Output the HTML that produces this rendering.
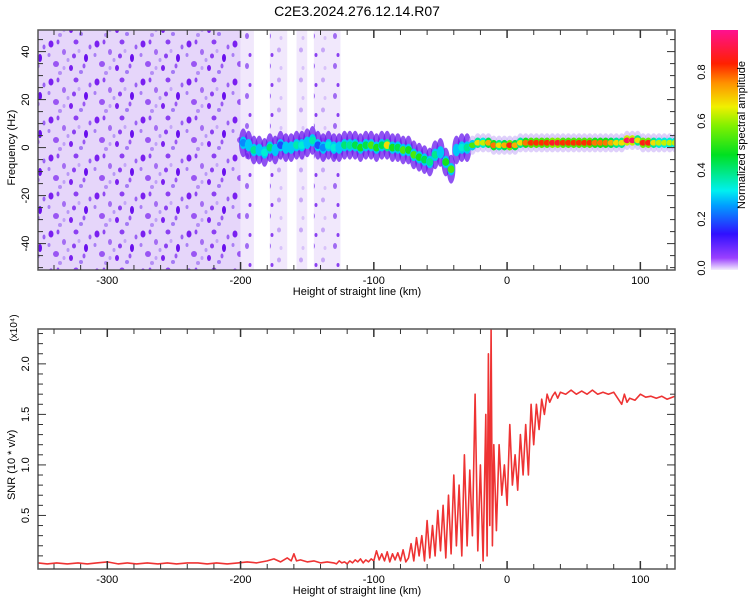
<!DOCTYPE html>
<html><head><meta charset="utf-8">
<style>
body{margin:0;background:#fff;}
svg{font-family:"Liberation Sans",sans-serif;}
</style></head>
<body>
<svg id="c" width="750" height="600" viewBox="0 0 750 600" xmlns="http://www.w3.org/2000/svg">
<defs>
<pattern id="noise" x="0" y="0" width="46" height="38" patternUnits="userSpaceOnUse">
<rect width="46" height="38" fill="#e6d6fa"/>
<ellipse cx="5" cy="6" rx="2.5" ry="3.5" fill="#7a1ff0"/>
<ellipse cx="18" cy="14" rx="2" ry="3" fill="#a36cf3"/>
<ellipse cx="30" cy="4" rx="2.5" ry="2.5" fill="#8c40f2"/>
<ellipse cx="40" cy="20" rx="2" ry="4" fill="#6a10ee"/>
<ellipse cx="10" cy="26" rx="3" ry="3" fill="#9955f3"/>
<ellipse cx="25" cy="30" rx="2" ry="3" fill="#7a20ef"/>
<ellipse cx="35" cy="34" rx="2" ry="2" fill="#a47af5"/>
<ellipse cx="14" cy="35" rx="2" ry="2" fill="#b48ef6"/>
<ellipse cx="22" cy="22" rx="1.5" ry="2" fill="#b898f7"/>
<ellipse cx="44" cy="9" rx="1.5" ry="2.5" fill="#9a62f4"/>
<ellipse cx="3" cy="17" rx="1.5" ry="2" fill="#a97ef5"/>
<ellipse cx="33" cy="13" rx="1.5" ry="2" fill="#c4a6f8"/>
<ellipse cx="12" cy="4" rx="1.5" ry="2.5" fill="#8f48f2"/>
<ellipse cx="28" cy="18" rx="2" ry="2.5" fill="#8a40f1"/>
<ellipse cx="38" cy="28" rx="1.5" ry="2.5" fill="#9a5af3"/>
<ellipse cx="18" cy="30" rx="1.5" ry="2" fill="#c0a0f8"/>
</pattern>
<pattern id="noise2" x="0" y="0" width="22" height="30" patternUnits="userSpaceOnUse">
<rect width="22" height="30" fill="#f1e8fc"/>
<ellipse cx="5" cy="6" rx="2" ry="3" fill="#a06af3"/>
<ellipse cx="15" cy="20" rx="2" ry="2.5" fill="#c7a7f7"/>
<ellipse cx="8" cy="25" rx="1.5" ry="2" fill="#8a40f1"/>
<ellipse cx="17" cy="8" rx="1.5" ry="2" fill="#d8c2fa"/>
</pattern>
<linearGradient id="cbar" x1="0" y1="1" x2="0" y2="0">
<stop offset="0" stop-color="#f4eefd"/>
<stop offset="0.05" stop-color="#9a40ff"/>
<stop offset="0.15" stop-color="#3010ff"/>
<stop offset="0.27" stop-color="#00a0ff"/>
<stop offset="0.33" stop-color="#00f0f0"/>
<stop offset="0.48" stop-color="#00e020"/>
<stop offset="0.6" stop-color="#80f000"/>
<stop offset="0.68" stop-color="#f0f000"/>
<stop offset="0.78" stop-color="#ff9000"/>
<stop offset="0.86" stop-color="#ff2000"/>
<stop offset="1" stop-color="#ff1090"/>
</linearGradient>
<clipPath id="clipTop"><rect x="38" y="30" width="637" height="240"/></clipPath>
<clipPath id="clipBot"><rect x="38" y="329" width="637" height="240"/></clipPath>
</defs>
<text x="357" y="16" font-size="14" text-anchor="middle">C2E3.2024.276.12.14.R07</text>
<g id="top"></g>
<g id="cb"></g>
<g id="bot"></g>
</svg>
<script>
// ---- data ----
const xTicks=[-300,-200,-100,0,100];
const fTicks=[-40,-20,0,20,40];
const snrTicks=[0.5,1.0,1.5,2.0];
const cbTicks=[0.0,0.2,0.4,0.6,0.8];
const noiseBands=[[-352,-200,1],[-200,-190,2],[-178,-165,2],[-158,-150,2],[-145,-125,2]];
const bandKm=[-200,-196,-192,-188,-184,-180,-176,-172,-168,-164,-160,-156,-152,-148,-144,-140,-136,-132,-128,-124,-120,-116,-112,-108,-104,-100,-96,-92,-88,-84,-80,-76,-72,-68,-64,-60,-56,-52,-48,-44,-40,-36,-32,-28,-24,-20,-16,-12,-8,-4,0,4,8,12,16,20,24,28,32,36,40,44,48,52,56,60,64,68,72,76,80,84,88,92,96,100,104,108,112,116,120,124];
const bandFreq=[2,1,-1,-1,-2,0,-1,1,0,0,1,1,2,3,1,0,1,0,0,1,1,1,0,1,1,0,1,1,0,0,-1,-1,-3,-4,-5,-6,-3,-2,-6,-9,-1,0,0,1,2,2,2,1,1,1,1,1,2,2,2,2,2,2,2,2,2,2,2,2,2,2,2,2,2,2,2,2,3,3,3,2,2,2,2,2,2,2];
const bandAmp=[0.25,0.3,0.4,0.3,0.35,0.42,0.3,0.2,0.3,0.3,0.38,0.35,0.3,0.38,0.2,0.25,0.35,0.35,0.3,0.42,0.4,0.45,0.5,0.45,0.55,0.5,0.45,0.7,0.5,0.45,0.55,0.5,0.55,0.5,0.45,0.4,0.4,0.3,0.5,0.55,0.3,0.35,0.4,0.55,0.7,0.65,0.75,0.8,0.7,0.75,0.88,0.75,0.7,0.8,0.85,0.85,0.85,0.85,0.9,0.9,0.85,0.85,0.85,0.85,0.85,0.85,0.8,0.8,0.8,0.75,0.7,0.7,0.95,0.95,0.7,0.88,0.88,0.7,0.65,0.65,0.65,0.65];
const snrKm=[-352,-345,-338,-330,-322,-315,-308,-300,-292,-285,-278,-270,-262,-255,-248,-240,-232,-225,-218,-210,-202,-195,-188,-180,-175,-170,-165,-162,-160,-158,-155,-150,-145,-140,-135,-130,-128,-126,-124,-122,-120,-118,-116,-114,-112,-110,-108,-106,-104,-102,-100,-98,-96,-94,-92,-90,-88,-86,-84,-82,-80,-78,-76,-74,-72,-70,-68,-66,-64,-62,-60,-58,-56,-54,-52,-50,-48,-46,-44,-42,-40,-38,-36,-34,-32,-30,-28,-26,-24,-22,-20,-18,-16,-15,-14,-13,-12,-11,-10,-8,-6,-4,-2,0,2,4,6,8,10,12,14,16,18,20,22,24,26,28,30,32,34,36,38,40,44,48,52,56,60,64,68,72,76,80,84,86,88,90,92,96,100,104,108,112,116,120,124,126];
const snrVal=[0.03,0.02,0.03,0.02,0.03,0.02,0.03,0.04,0.02,0.03,0.02,0.03,0.02,0.03,0.02,0.03,0.03,0.02,0.03,0.02,0.03,0.04,0.03,0.05,0.07,0.04,0.08,0.05,0.12,0.05,0.06,0.04,0.05,0.03,0.04,0.03,0.02,0.05,0.03,0.04,0.02,0.05,0.03,0.06,0.04,0.07,0.03,0.06,0.04,0.07,0.05,0.15,0.06,0.12,0.05,0.14,0.04,0.12,0.06,0.13,0.05,0.16,0.04,0.08,0.22,0.05,0.28,0.1,0.3,0.05,0.45,0.08,0.4,0.1,0.55,0.15,0.6,0.08,0.7,0.12,0.9,0.2,0.8,0.1,1.1,0.2,0.95,0.3,1.7,0.15,1.0,0.05,1.5,0.1,2.1,0.4,2.35,0.2,1.2,0.35,1.2,0.7,1.0,0.6,1.4,0.8,1.1,0.75,1.3,0.9,1.4,0.9,1.6,1.2,1.6,1.35,1.65,1.5,1.7,1.62,1.68,1.72,1.66,1.72,1.7,1.74,1.7,1.73,1.7,1.74,1.7,1.72,1.7,1.72,1.64,1.6,1.7,1.62,1.66,1.64,1.7,1.67,1.68,1.66,1.68,1.65,1.67,1.68];

// ---- scales ----
const NS='http://www.w3.org/2000/svg';
const X0=38,X1=675,KM0=-352,KM1=126;
const xs=k=>X0+(k-KM0)/(KM1-KM0)*(X1-X0);
const TY0=30,TY1=270,F0=-51,F1=49;
const fy=f=>TY1-(f-F0)/(F1-F0)*(TY1-TY0);
const BY0=329,BY1=569,S0=-0.03,S1=2.345;
const sy=v=>BY1-(v-S0)/(S1-S0)*(BY1-BY0);
function mk(tag,attrs,parent){const e=document.createElementNS(NS,tag);for(const k in attrs)e.setAttribute(k,attrs[k]);parent.appendChild(e);return e;}
function cmap(a){
 const st=[[0,[244,238,253]],[0.05,[154,64,255]],[0.15,[48,16,255]],[0.27,[0,160,255]],[0.33,[0,240,240]],[0.48,[0,224,32]],[0.6,[128,240,0]],[0.68,[240,240,0]],[0.78,[255,144,0]],[0.86,[255,32,0]],[1,[255,16,144]]];
 for(let i=1;i<st.length;i++){if(a<=st[i][0]){const t=(a-st[i-1][0])/(st[i][0]-st[i-1][0]);const c=st[i-1][1].map((v,j)=>Math.round(v+(st[i][1][j]-v)*t));return `rgb(${c})`;}}
 return 'rgb(255,16,144)';
}
const topG=document.getElementById('top'),botG=document.getElementById('bot'),cbG=document.getElementById('cb');

// ---- top spectrogram ----
const tg=mk('g',{'clip-path':'url(#clipTop)'},topG);
noiseBands.forEach(b=>{
 const r=mk('rect',{x:xs(b[0]),y:TY0,width:xs(b[1])-xs(b[0]),height:TY1-TY0,fill:b[2]==1?'url(#noise)':'url(#noise2)'},tg);
 
 
});
const w=xs(4)-xs(0);
bandKm.forEach((k,i)=>{
 const cx=xs(k)+w/2, cy=fy(bandFreq[i]);
 const h=mk('ellipse',{cx:cx,cy:cy,rx:w*0.8,ry:(fy(0)-fy(k<-30?6:4)),fill:k<-30?'#6a18ee':'#c9b0f8',opacity:k<-30?0.75:0.6},tg);
 
 
});
bandKm.forEach((k,i)=>{
 const cx=xs(k)+w/2, cy=fy(bandFreq[i]);
 const e=mk('ellipse',{cx:cx,cy:cy,rx:w*0.7,ry:(fy(0)-fy(k<-30?2.6:2.2)),fill:cmap(Math.max(0.3,bandAmp[i]-0.3))},tg);
 
 
 const e2=mk('ellipse',{cx:cx,cy:cy,rx:w*0.65,ry:(fy(0)-fy(k<-30?1.6:1.2)),fill:cmap(bandAmp[i])},tg);
 
 
});
const tf=mk('rect',{x:X0,y:TY0,width:X1-X0,height:TY1-TY0,fill:'none',stroke:'#555','stroke-width':1.5},topG);



function xAxis(g,y0,y1){
 for(let k=-340;k<=120;k+=20){
  const big=k%100===0,x=xs(k);
  mk('line',{x1:x,x2:x,y1:y1,y2:y1-(big?8:5),stroke:'#333','stroke-width':big?1.5:1},g);
  mk('line',{x1:x,x2:x,y1:y0,y2:y0+(big?8:5),stroke:'#333','stroke-width':big?1.5:1},g);
 }
 xTicks.forEach(k=>{const t=mk('text',{x:xs(k),y:y1+14,'font-size':11,'text-anchor':'middle'},g);t.textContent=k;
  
  });
 const t=mk('text',{x:357,y:y1+25,'font-size':11,'text-anchor':'middle'},g);t.textContent='Height of straight line (km)';
 
 
}
xAxis(topG,TY0,TY1);
for(let f=-50;f<=45;f+=5){const y=fy(f),big=f%20===0;
 mk('line',{x1:X0,x2:X0+(big?8:5),y1:y,y2:y,stroke:'#333'},topG);
 mk('line',{x1:X1,x2:X1-(big?8:5),y1:y,y2:y,stroke:'#333'},topG);}
fTicks.forEach(f=>{const t=mk('text',{x:0,y:0,'font-size':11,'text-anchor':'middle',transform:`translate(29,${fy(f)}) rotate(-90)`},topG);t.textContent=f;
 
 });
{const t=mk('text',{x:0,y:0,'font-size':11,'text-anchor':'middle',transform:`translate(15,${fy(0)}) rotate(-90)`},topG);t.textContent='Frequency (Hz)';
 
 }

// ---- colorbar ----
const CB0=30,CB1=270,cby=v=>CB1-v/0.98*(CB1-CB0);
mk('rect',{x:711,y:CB0,width:27,height:CB1-CB0,fill:'url(#cbar)'},cbG);
cbTicks.forEach(v=>{const t=mk('text',{x:0,y:0,'font-size':11,'text-anchor':'middle',transform:`translate(705,${cby(v)-2}) rotate(-90)`},cbG);t.textContent=v.toFixed(1);
 
 });
{const t=mk('text',{x:0,y:0,'font-size':11,'text-anchor':'middle',transform:`translate(745,${(CB0+CB1)/2-15}) rotate(-90)`},cbG);t.textContent='Normalized spectral amplitude';
 
 }

// ---- bottom SNR ----
const bg=mk('g',{'clip-path':'url(#clipBot)'},botG);
const pts=snrKm.map((k,i)=>xs(k).toFixed(1)+','+sy(snrVal[i]).toFixed(1)).join(' ');
const pl=mk('polyline',{points:pts,fill:'none',stroke:'#ee3333','stroke-width':1.6,'stroke-linejoin':'round'},bg);


const bf=mk('rect',{x:X0,y:BY0,width:X1-X0,height:BY1-BY0,fill:'none',stroke:'#555','stroke-width':1.5},botG);


xAxis(botG,BY0,BY1);
for(let v=0.1;v<=2.31;v+=0.1){const y=sy(v),big=Math.abs(v*2-Math.round(v*2))<0.01;
 mk('line',{x1:X0,x2:X0+(big?8:5),y1:y,y2:y,stroke:'#333'},botG);
 mk('line',{x1:X1,x2:X1-(big?8:5),y1:y,y2:y,stroke:'#333'},botG);}
snrTicks.forEach(v=>{const t=mk('text',{x:0,y:0,'font-size':11,'text-anchor':'middle',transform:`translate(29,${sy(v)}) rotate(-90)`},botG);t.textContent=v.toFixed(1);
 
 });
{const t=mk('text',{x:0,y:0,'font-size':11,'text-anchor':'middle',transform:`translate(15,${sy(1.0)}) rotate(-90)`},botG);t.textContent='SNR (10 * v/v)';
 
 }
{const t=mk('text',{x:0,y:0,'font-size':10,'text-anchor':'middle',transform:`translate(17,328) rotate(-90)`},botG);t.textContent='(x10\u2074)';
 
 }
</script>
</body></html>
